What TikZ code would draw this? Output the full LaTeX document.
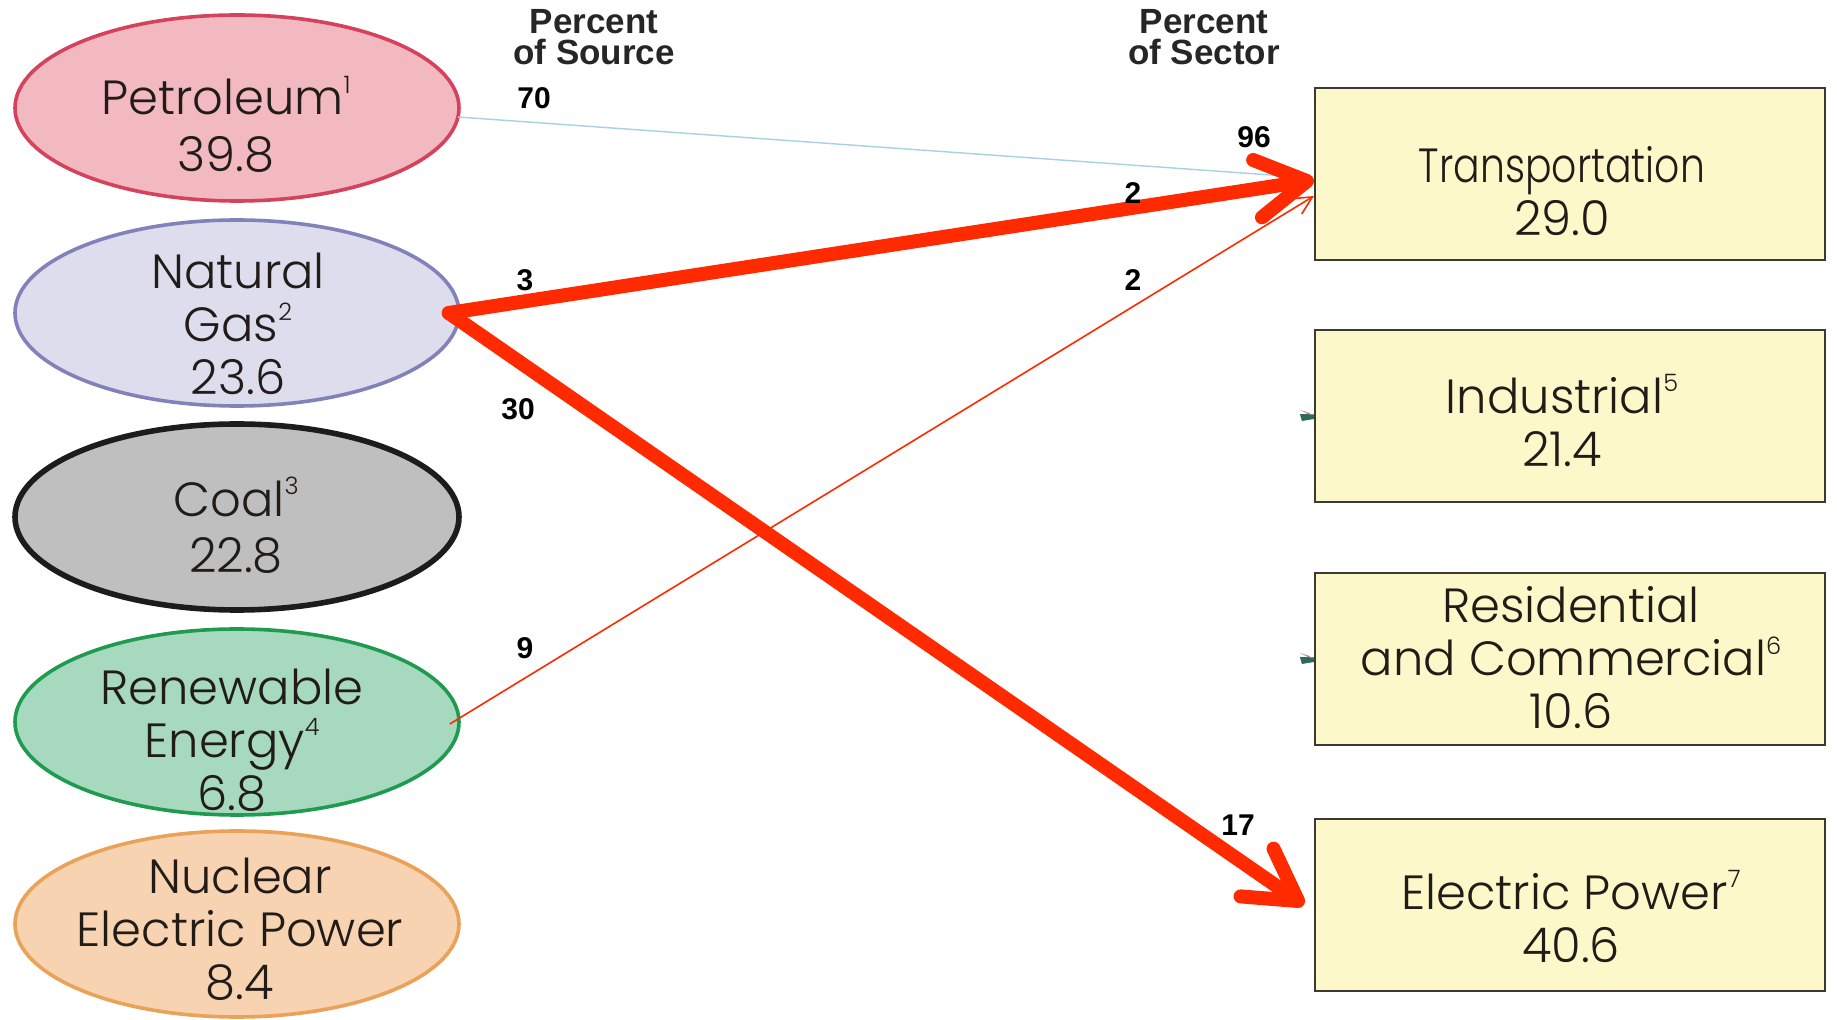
\documentclass[tikz,border=0pt]{standalone}
\usepackage{fontspec}
\setmainfont{Liberation Sans}
\newfontfamily\geo{Poppins Light}
\usetikzlibrary{shapes.geometric,arrows.meta}

\definecolor{ink}{HTML}{221C18}
\definecolor{petfill}{HTML}{F3B9C1}
\definecolor{petline}{HTML}{D4425C}
\definecolor{gasfill}{HTML}{DDDDEE}
\definecolor{gasline}{HTML}{8282BA}
\definecolor{coalfill}{HTML}{BFBFBF}
\definecolor{coalline}{HTML}{1C1C1C}
\definecolor{renfill}{HTML}{A7D9BF}
\definecolor{renline}{HTML}{1F9B50}
\definecolor{nucfill}{HTML}{F7D3B1}
\definecolor{nucline}{HTML}{E9A257}
\definecolor{boxfill}{HTML}{FCF8CA}
\definecolor{boxline}{HTML}{3A3A30}
\definecolor{flowred}{HTML}{FF2A00}
\definecolor{paleblue}{HTML}{A6D2DE}
\definecolor{stubteal}{HTML}{2C6A5C}
\definecolor{stubpink}{HTML}{D88090}

% footnote marks beside a label, kept out of the line height
\newcommand\fnmark[1]{\smash{\raisebox{0.45em}{\fontsize{12}{12}\selectfont#1}}}
\newcommand\squeeze[1]{\scalebox{0.82}[1]{#1}}

\begin{document}
\begin{tikzpicture}[x=0.5pt,y=-0.5pt,
  source/.style={ellipse, line width=1.8pt, minimum width=222pt,
    minimum height=93pt, inner sep=0pt},
  sector/.style={rectangle, draw=boxline, fill=boxfill, line width=1.1pt,
    minimum width=255pt, minimum height=86pt, inner sep=0pt},
  txt/.style={font=\geo\fontsize{24}{26.5}\selectfont, text=ink,
    align=center, inner sep=0pt},
  pct/.style={font=\bfseries\fontsize{15}{15}\selectfont, text=black,
    inner sep=0pt},
  hdr/.style={font=\bfseries\fontsize{17.5}{15.8}\selectfont, text=black!85,
    align=center, inner sep=0pt},
  bigflow/.style={draw=flowred, line width=7pt, line cap=round,
    -{Straight Barb[length=25pt, width=29pt, round]}},
  thinflow/.style={draw=flowred, line width=0.8pt,
    -{Straight Barb[length=9pt, width=9pt]}},
  faint/.style={draw=paleblue, line width=0.7pt}]

\useasboundingbox (0,0) rectangle (1837,1020);

% energy sources
\node[source, fill=petfill, draw=petline] (pet) at (237,108) {};
\node[source, fill=gasfill, draw=gasline] (gas) at (237,313) {};
\node[source, fill=coalfill, draw=coalline, line width=2.8pt] (coal) at (237,517) {};
\node[source, fill=renfill, draw=renline] (ren) at (237,722) {};
\node[source, fill=nucfill, draw=nucline] (nuc) at (237,924) {};

\node[txt, font=\geo\fontsize{24}{28.5}\selectfont] (pettxt) at (226,126) {Petroleum\fnmark{1}\\39.8};
\node[txt] (gastxt) at (238,324) {Natural\\Gas\fnmark{2}\\23.6};
\node[txt, font=\geo\fontsize{24}{28}\selectfont] (coaltxt) at (236,527) {Coal\fnmark{3}\\22.8};
\node[txt] (rentxt) at (232,740) {Renewable\\Energy\fnmark{4}\\6.8};
\node[txt] (nuctxt) at (240,929) {Nuclear\\Electric Power\\8.4};

% consuming sectors
\node[sector] (trans) at (1570,174) {};
\node[sector] (ind) at (1570,416) {};
\node[sector] (res) at (1570,659) {};
\node[sector] (elec) at (1570,905) {};

\node[txt] (transtxt) at (1562,191) {\squeeze{Transportation}\\29.0};
\node[txt] (indtxt) at (1562,422) {Industrial\fnmark{5}\\21.4};
\node[txt] (restxt) at (1571,658) {Residential\\and Commercial\fnmark{6}\\10.6};
\node[txt] (electxt) at (1571,918) {Electric Power\fnmark{7}\\40.6};

% column headings
\node[hdr] (hsrc) at (594,37) {Percent\\of Source};
\node[hdr] (hsec) at (1204,37) {Percent\\of Sector};

% leftover arrow stubs at the sector boxes
\fill[stubpink] ([xshift=-7pt,yshift=3pt]ind.west) -- ([xshift=-2pt,yshift=1.5pt]ind.west)
  -- ([xshift=-2pt,yshift=0.5pt]ind.west) -- cycle;
\fill[stubteal] ([xshift=-7pt,yshift=1pt]ind.west) -- ([xshift=0pt,yshift=0.8pt]ind.west)
  -- ([xshift=0pt,yshift=-1.5pt]ind.west) -- ([xshift=-6pt,yshift=-2.5pt]ind.west) -- cycle;
\fill[stubpink] ([xshift=-7pt,yshift=3pt]res.west) -- ([xshift=-2pt,yshift=1.5pt]res.west)
  -- ([xshift=-2pt,yshift=0.5pt]res.west) -- cycle;
\fill[stubteal] ([xshift=-7pt,yshift=1pt]res.west) -- ([xshift=0pt,yshift=0.8pt]res.west)
  -- ([xshift=0pt,yshift=-1.5pt]res.west) -- ([xshift=-6pt,yshift=-2.5pt]res.west) -- cycle;

% flows
\coordinate (petend) at (1285,176);
\draw[faint] ([xshift=-1.5pt,yshift=-4.5pt]pet.east) -- (petend);
\draw[thinflow] ([xshift=-5.5pt,yshift=-1pt]ren.east) -- ([yshift=-11pt]trans.west);
\draw[bigflow] ([xshift=-6pt]gas.east) -- ([yshift=-3pt]trans.west);
\draw[bigflow] ([xshift=-6pt]gas.east) -- ([xshift=-5pt]elec.west);

% percentages
\node[pct] (p70) at (534,98) {70};
\node[pct] (p96) at (1254,137) {96};
\node[pct] (p2a) at (1133,193) {2};
\node[pct] (p3) at (525,280) {3};
\node[pct] (p2b) at (1133,280) {2};
\node[pct] (p30) at (518,409) {30};
\node[pct] (p9) at (525,648) {9};
\node[pct] (p17) at (1238,825) {17};

\end{tikzpicture}
\end{document}
